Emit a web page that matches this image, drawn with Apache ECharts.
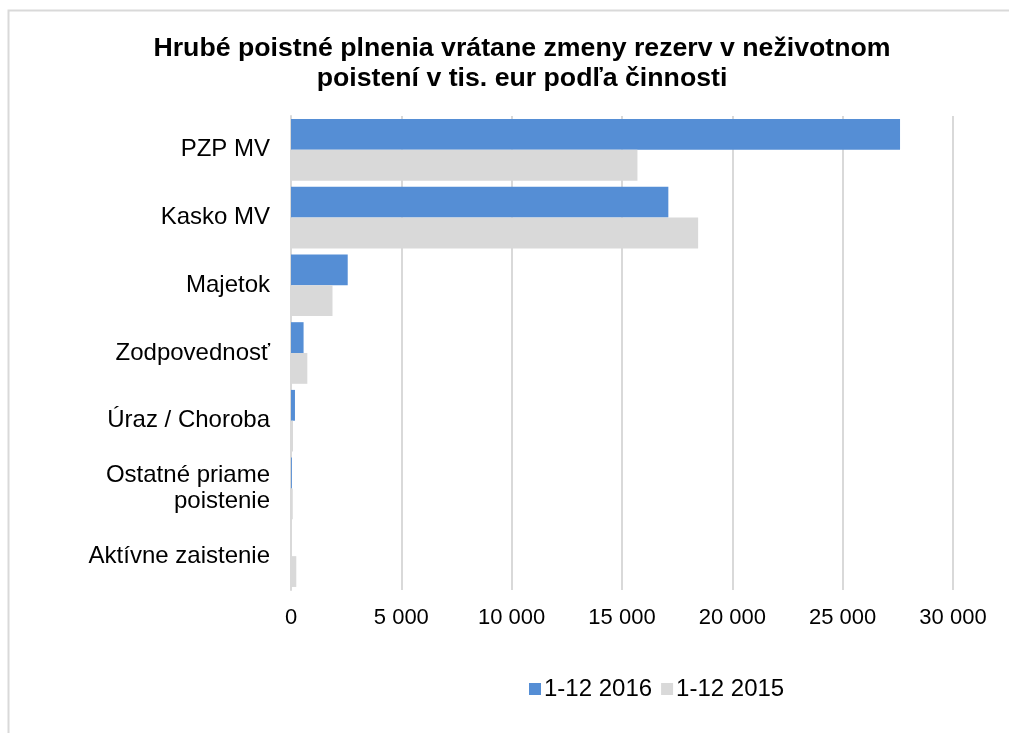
<!DOCTYPE html>
<html>
<head>
<meta charset="utf-8">
<script src="https://cdn.jsdelivr.net/npm/echarts@6/dist/echarts.min.js"></script>
<style>html,body{margin:0;padding:0;background:#fff;}#c{width:1009px;height:733px;}</style>
</head>
<body>
<div id="c"></div>
<script>
const categories = ['PZP MV', 'Kasko MV', 'Majetok', 'Zodpovednosť', 'Úraz / Choroba', 'Ostatné priame poistenie', 'Aktívne zaistenie'];
const series2016 = [27600, 17100, 2570, 570, 180, 40, 0];
const series2015 = [15700, 18450, 1880, 740, 90, 80, 240];
const seriesNames = ['1-12 2016', '1-12 2015'];
const titleText = 'Hrubé poistné plnenia vrátane zmeny rezerv v neživotnom\npoistení v tis. eur podľa činnosti';

const FONT = '"Liberation Sans", Arial, sans-serif';
const chart = echarts.init(document.getElementById('c'), null, {renderer: 'canvas'});
chart.setOption({
  animation: false,
  backgroundColor: '#fff',
  graphic: [{
    type: 'rect', shape: {x: 8.5, y: 10.5, width: 1100, height: 800},
    style: {fill: 'none', stroke: '#d9d9d9', lineWidth: 2}, silent: true
  }],
  title: {
    text: titleText, left: 517, top: 29, textAlign: 'center',
    textStyle: {fontFamily: FONT, fontSize: 26.7, fontWeight: 'bold', color: '#000', lineHeight: 30}
  },
  legend: {
    left: 524, top: 672, itemWidth: 12, itemHeight: 12, itemGap: 9,
    icon: 'rect',
    textStyle: {fontFamily: FONT, fontSize: 24, color: '#000', padding: [0, 0, 0, -2]},
    data: seriesNames
  },
  grid: {left: 291, right: 56, top: 116, bottom: 143, containLabel: false},
  xAxis: {
    type: 'value', min: 0, max: 30000, interval: 5000,
    axisLine: {show: false}, axisTick: {show: false},
    splitLine: {lineStyle: {color: '#d9d9d9', width: 2}},
    axisLabel: {fontFamily: FONT, fontSize: 22, color: '#000', margin: 17,
      formatter: v => String(v).replace(/\B(?=(\d{3})+(?!\d))/g, ' ')}
  },
  yAxis: {
    type: 'category', data: categories, inverse: true,
    axisLine: {lineStyle: {color: '#d9d9d9', width: 2}}, axisTick: {show: false},
    axisLabel: {fontFamily: FONT, fontSize: 24, color: '#000', margin: 21, align: 'right', lineHeight: 26,
      formatter: v => v.replace('priame ', 'priame\n')}
  },
  series: [
    {name: seriesNames[0], type: 'bar', data: series2016, barGap: '0%', barCategoryGap: '9%',
     itemStyle: {color: '#558ED5'}},
    {name: seriesNames[1], type: 'bar', data: series2015, barGap: '0%', barCategoryGap: '9%',
     itemStyle: {color: '#D9D9D9'}}
  ]
});
</script>
</body>
</html>
